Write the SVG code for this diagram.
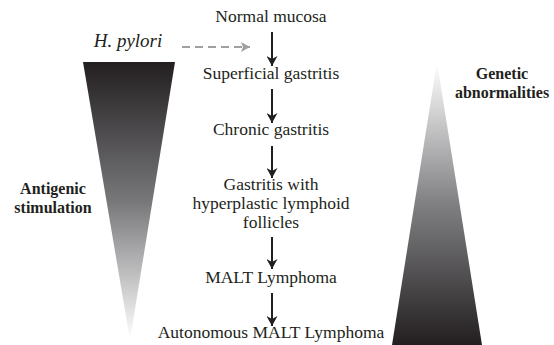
<svg xmlns="http://www.w3.org/2000/svg" width="554" height="345" viewBox="0 0 554 345" font-family="Liberation Serif, Times New Roman, serif">
<style>
text{font-size:17.5px;fill:#231f20;text-anchor:middle}
.b{font-weight:bold;font-size:16px}
.i{font-style:italic;font-size:19px}
.a{stroke:#231f20;stroke-width:2;fill:none}
</style>
<defs>
<linearGradient id="gl" x1="0" y1="0" x2="0" y2="1">
<stop offset="0" stop-color="#231f20"/>
<stop offset="0.5" stop-color="#77777a"/>
<stop offset="1" stop-color="#ffffff"/>
</linearGradient>
<linearGradient id="gr" x1="0" y1="0" x2="0" y2="1">
<stop offset="0" stop-color="#ffffff"/>
<stop offset="0.5" stop-color="#808083"/>
<stop offset="1" stop-color="#231f20"/>
</linearGradient>
<marker id="ah" markerWidth="10" markerHeight="11" refX="10" refY="5.5" orient="auto" markerUnits="userSpaceOnUse">
<path d="M0,0 L10,5.5 L0,11 L3,5.5 Z" fill="#231f20"/>
</marker>
<marker id="ag" markerWidth="10" markerHeight="10" refX="9" refY="5" orient="auto" markerUnits="userSpaceOnUse">
<path d="M0,0 L9,5 L0,10 L2,5 Z" fill="#a0a0a2"/>
</marker>
</defs>
<g id="left-wedge"><polygon points="83,62 175,62 130,340" fill="url(#gl)"/></g>
<g id="right-wedge"><polygon points="437,62 482,345 392,345" fill="url(#gr)"/></g>
<g id="hpylori"><text class="i" x="128" y="47">H. pylori</text></g>
<g id="antigenic"><text class="b" x="53" y="194">Antigenic</text><text class="b" x="53" y="212.5">stimulation</text></g>
<g id="genetic"><text class="b" x="502" y="79">Genetic</text><text class="b" x="502" y="97.5">abnormalities</text></g>
<g id="n1"><text x="271" y="22">Normal mucosa</text></g>
<g id="n2"><text x="271" y="79">Superficial gastritis</text></g>
<g id="n3"><text x="271" y="135">Chronic gastritis</text></g>
<g id="n4"><text x="271" y="190">Gastritis with</text><text x="271" y="209">hyperplastic lymphoid</text><text x="271" y="228">follicles</text></g>
<g id="n5"><text x="271" y="283">MALT Lymphoma</text></g>
<g id="n6"><text x="271" y="338">Autonomous MALT Lymphoma</text></g>
<g id="connectors">
<line class="a" x1="272" y1="32" x2="272" y2="66" marker-end="url(#ah)"/>
<line class="a" x1="272" y1="89" x2="272" y2="123" marker-end="url(#ah)"/>
<line class="a" x1="272" y1="146" x2="272" y2="178" marker-end="url(#ah)"/>
<line class="a" x1="272" y1="237" x2="272" y2="269" marker-end="url(#ah)"/>
<line class="a" x1="272" y1="293" x2="272" y2="326" marker-end="url(#ah)"/>
<line x1="182" y1="47" x2="250" y2="47" stroke="#a0a0a2" stroke-width="2" stroke-dasharray="8,5" marker-end="url(#ag)"/>
</g>
</svg>
